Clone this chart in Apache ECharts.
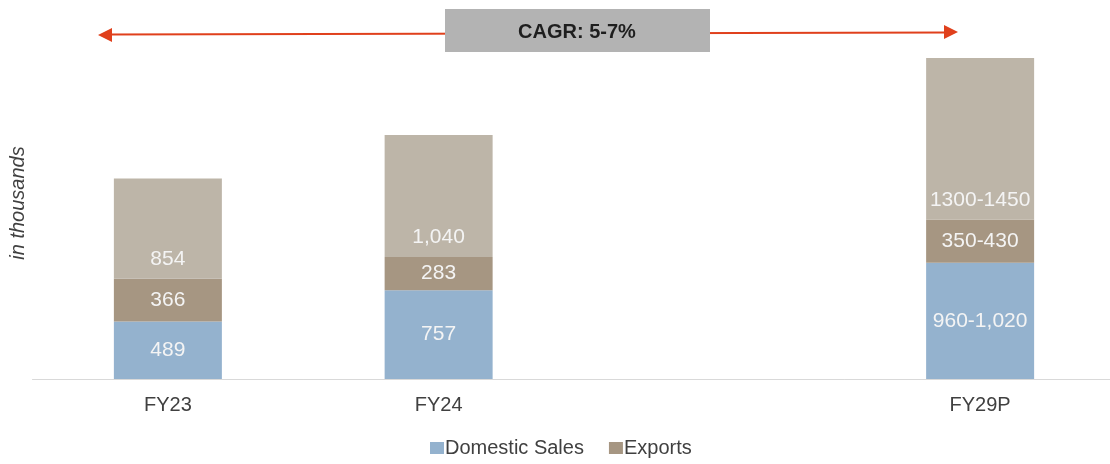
<!DOCTYPE html>
<html>
<head>
<meta charset="utf-8">
<script src="https://cdn.jsdelivr.net/npm/echarts@6/dist/echarts.min.js"></script>
<style>
  html, body { margin: 0; padding: 0; background: #fff; overflow: hidden; }
  #chart { width: 1120px; height: 464px; }
</style>
</head>
<body>
<div id="chart"></div>
<script>
// categories (blank slot keeps the gap before FY29P)
const categories = ['FY23', 'FY24', '', 'FY29P']
// stacked values, in thousands (FY29P = mid of projected range)
const domestic = [489, 757, null, 990]
const exportsVals = [366, 283, null, 370]
const others = [854, 1040, null, 1375]
// labels shown on bars
const domesticLabels = ['489', '757', '', '960-1,020']
const exportsLabels = ['366', '283', '', '350-430']
const othersLabels = ['854', '1,040', '', '1300-1450']
const cagrText = 'CAGR: 5-7%'

const font = '"Liberation Sans", Arial, sans-serif'
const textColor = '#404040'

function seriesData (vals, labels) {
  return vals.map((v, i) => ({ value: v, labelText: labels[i] }))
}

const barLabel = {
  show: true,
  color: '#f4f4f4',
  fontSize: 21,
  fontFamily: font,
  formatter: p => p.data.labelText
}

const chart = echarts.init(document.getElementById('chart'))
const option = {
  animation: false,
  grid: { left: 32.5, top: 27, bottom: 85, width: 1083 },
  legend: {
    data: ['Domestic Sales', 'Exports'],
    left: 425,
    top: 433,
    itemWidth: 14,
    itemHeight: 12,
    itemGap: 25,
    icon: 'rect',
    textStyle: { color: textColor, fontSize: 20, fontFamily: font, padding: [0, 0, 0, -4] }
  },
  xAxis: {
    type: 'category',
    data: categories,
    axisLine: { lineStyle: { color: '#d9d9d9', width: 1 } },
    axisTick: { show: false },
    axisLabel: { color: textColor, fontSize: 20, fontFamily: font, margin: 16 }
  },
  yAxis: {
    type: 'value',
    min: 0,
    max: 3000,
    show: false
  },
  series: [
    {
      name: 'Domestic Sales',
      type: 'bar',
      stack: 'total',
      barWidth: 108,
      itemStyle: { color: '#94b2ce' },
      label: { ...barLabel, position: 'inside' },
      data: seriesData(domestic, domesticLabels)
    },
    {
      name: 'Exports',
      type: 'bar',
      stack: 'total',
      itemStyle: { color: '#a69682' },
      label: { ...barLabel, position: 'inside' },
      data: seriesData(exportsVals, exportsLabels)
    },
    {
      name: 'Others',
      type: 'bar',
      stack: 'total',
      itemStyle: { color: '#bdb5a8' },
      label: { ...barLabel, position: 'insideBottom', distance: 9 },
      data: seriesData(others, othersLabels)
    }
  ],
  graphic: [
    {
      type: 'line',
      shape: { x1: 108, y1: 34.5, x2: 948, y2: 32.5 },
      style: { stroke: '#e0401c', lineWidth: 2 }
    },
    {
      type: 'polygon',
      shape: { points: [[98, 35], [112, 28], [112, 42]] },
      style: { fill: '#e0401c' }
    },
    {
      type: 'polygon',
      shape: { points: [[958, 32], [944, 25], [944, 39]] },
      style: { fill: '#e0401c' }
    },
    {
      type: 'rect',
      shape: { x: 445, y: 9, width: 265, height: 43 },
      style: { fill: '#b3b3b3' }
    },
    {
      type: 'text',
      x: 577,
      y: 32,
      style: {
        text: cagrText,
        fill: '#1e1e1e',
        font: 'bold 20px ' + font,
        align: 'center',
        verticalAlign: 'middle'
      }
    },
    {
      type: 'text',
      x: 18,
      y: 203,
      rotation: Math.PI / 2,
      style: {
        text: 'in thousands',
        fill: textColor,
        font: 'italic 20px ' + font,
        align: 'center',
        verticalAlign: 'middle'
      }
    }
  ]
}
chart.setOption(option)
</script>
</body>
</html>
